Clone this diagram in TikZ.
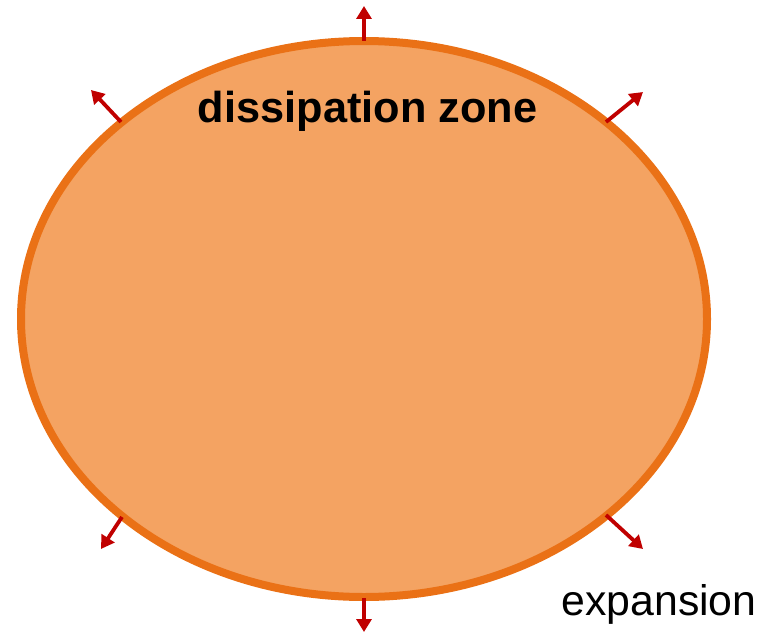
\documentclass[tikz,border=0pt]{standalone}
\usepackage{fontspec}
\setmainfont{Liberation Sans}
\usetikzlibrary{arrows.meta}
\definecolor{zonefill}{RGB}{244,163,98}
\definecolor{zoneline}{RGB}{234,113,22}
\definecolor{arrowred}{RGB}{192,0,0}
\begin{document}
\begin{tikzpicture}[x=1pt,y=-1pt,
  outarrow/.style={draw=arrowred, line width=3.8pt, -{Triangle[length=13pt,width=15pt]}},
  lbl/.style={font=\fontsize{42.8}{48}\selectfont, inner sep=0pt}]
\useasboundingbox (0,0) rectangle (765,634);
\draw[fill=zonefill, draw=zoneline, line width=8pt] (364,319) ellipse [x radius=343, y radius=278];
\coordinate (t0) at (364,41);   \coordinate (t1) at (364,6);
\coordinate (b0) at (364,598);  \coordinate (b1) at (364,632);
\coordinate (ul0) at (121,122); \coordinate (ul1) at (91,90);
\coordinate (ur0) at (606,122); \coordinate (ur1) at (643,92);
\coordinate (ll0) at (122,517); \coordinate (ll1) at (101,549);
\coordinate (lr0) at (606,515); \coordinate (lr1) at (643,549);
\foreach \a in {t,b,ul,ur,ll,lr} \draw[outarrow] (\a0) -- (\a1);
\node[lbl, font=\fontsize{43.3}{48}\selectfont\bfseries, anchor=base] (dz) at (367.5,122) {dissipation zone};
\node[lbl, anchor=base] (ex) at (659,615) {expansion};
\end{tikzpicture}
\end{document}
